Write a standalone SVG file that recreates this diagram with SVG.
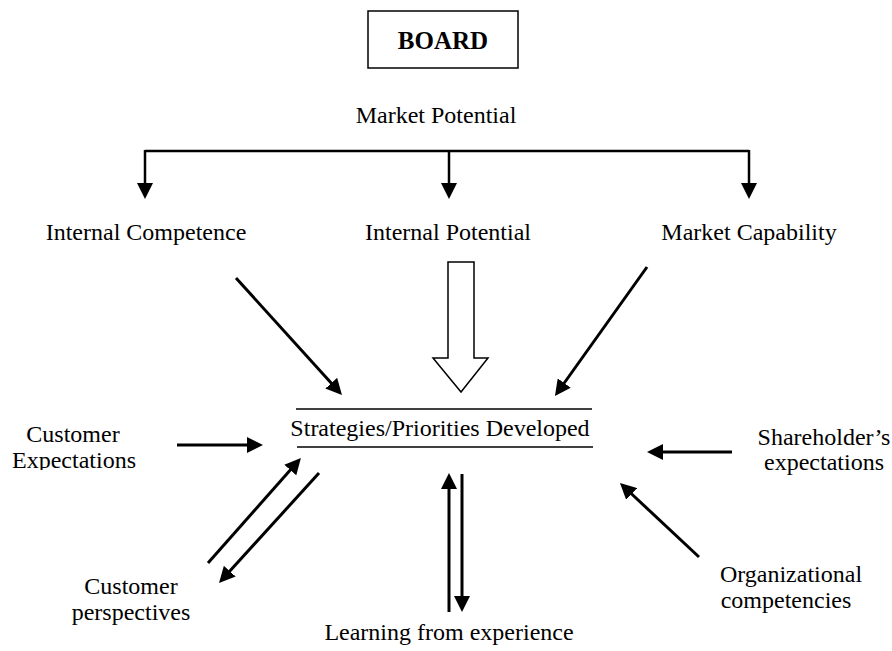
<svg xmlns="http://www.w3.org/2000/svg" width="892" height="651" viewBox="0 0 892 651">
  <style>
    .t { font-family: "Liberation Serif", "Times New Roman", serif; font-size: 24px; fill: #000; text-anchor: middle; }
    .b { font-weight: bold; font-size: 25px; }
    .ln { stroke: #000; stroke-width: 3; fill: none; marker-end: url(#ah); }
    .br { stroke: #000; stroke-width: 2.5; fill: none; }
    .thin { stroke: #000; stroke-width: 1.5; fill: none; }
  </style>
  <defs>
    <marker id="ah" markerUnits="userSpaceOnUse" viewBox="0 0 16 16" markerWidth="16" markerHeight="16" refX="8" refY="8" orient="auto">
      <path d="M0,0 L16,8 L0,16 z" fill="#000"/>
    </marker>
    <clipPath id="clipExp">
      <rect x="0" y="400" width="200" height="70"/>
    </clipPath>
  </defs>
  <rect width="892" height="651" fill="#fff"/>

  <g id="board">
    <rect class="thin" x="368" y="11" width="150" height="57"/>
    <text class="t b" x="443" y="49">BOARD</text>
  </g>
  <g id="market-potential">
    <text class="t" x="436" y="123">Market Potential</text>
  </g>
  <g id="internal-competence">
    <text class="t" x="146" y="240">Internal Competence</text>
  </g>
  <g id="internal-potential">
    <text class="t" x="448" y="240">Internal Potential</text>
  </g>
  <g id="market-capability">
    <text class="t" x="749" y="240">Market Capability</text>
  </g>
  <g id="strategies">
    <line class="thin" x1="296" y1="409" x2="592" y2="409"/>
    <text class="t" x="440" y="436">Strategies/Priorities Developed</text>
    <line class="thin" x1="297" y1="447" x2="593" y2="447"/>
  </g>
  <g id="customer-expectations">
    <text class="t" x="73" y="442">Customer</text>
    <text class="t" x="74" y="468" clip-path="url(#clipExp)">Expectations</text>
  </g>
  <g id="shareholders-expectations">
    <text class="t" x="824" y="445">Shareholder’s</text>
    <text class="t" x="824" y="470">expectations</text>
  </g>
  <g id="organizational-competencies">
    <text class="t" x="791" y="582">Organizational</text>
    <text class="t" x="786" y="608">competencies</text>
  </g>
  <g id="customer-perspectives">
    <text class="t" x="131" y="594">Customer</text>
    <text class="t" x="131" y="620">perspectives</text>
  </g>
  <g id="learning">
    <text class="t" x="449" y="640">Learning from experience</text>
  </g>

  <g id="connectors">
    <line class="br" x1="145" y1="151" x2="749" y2="151"/>
    <line class="br" x1="145" y1="150" x2="145" y2="191" marker-end="url(#ah)"/>
    <line class="br" x1="449" y1="151" x2="449" y2="191" marker-end="url(#ah)"/>
    <line class="br" x1="749" y1="150" x2="749" y2="191" marker-end="url(#ah)"/>

    <line class="ln" x1="236" y1="278" x2="336.6" y2="389.1"/>
    <polygon class="thin" fill="#fff" points="448,262 474,262 474,358 488,358 461,392 433,358 448,358" style="fill:#fff"/>
    <line class="ln" x1="647" y1="267" x2="559.6" y2="389.5"/>

    <line class="ln" x1="177" y1="445" x2="255" y2="445"/>
    <line class="ln" x1="732" y1="452" x2="655" y2="452"/>
    <line class="ln" x1="699" y1="557" x2="625.8" y2="488.5"/>

    <line class="ln" x1="208" y1="563" x2="295.6" y2="464"/>
    <line class="ln" x1="319" y1="473" x2="224.4" y2="577.1"/>

    <line class="ln" x1="449" y1="612" x2="449" y2="481"/>
    <line class="ln" x1="462" y1="474" x2="462" y2="604"/>
  </g>
</svg>
